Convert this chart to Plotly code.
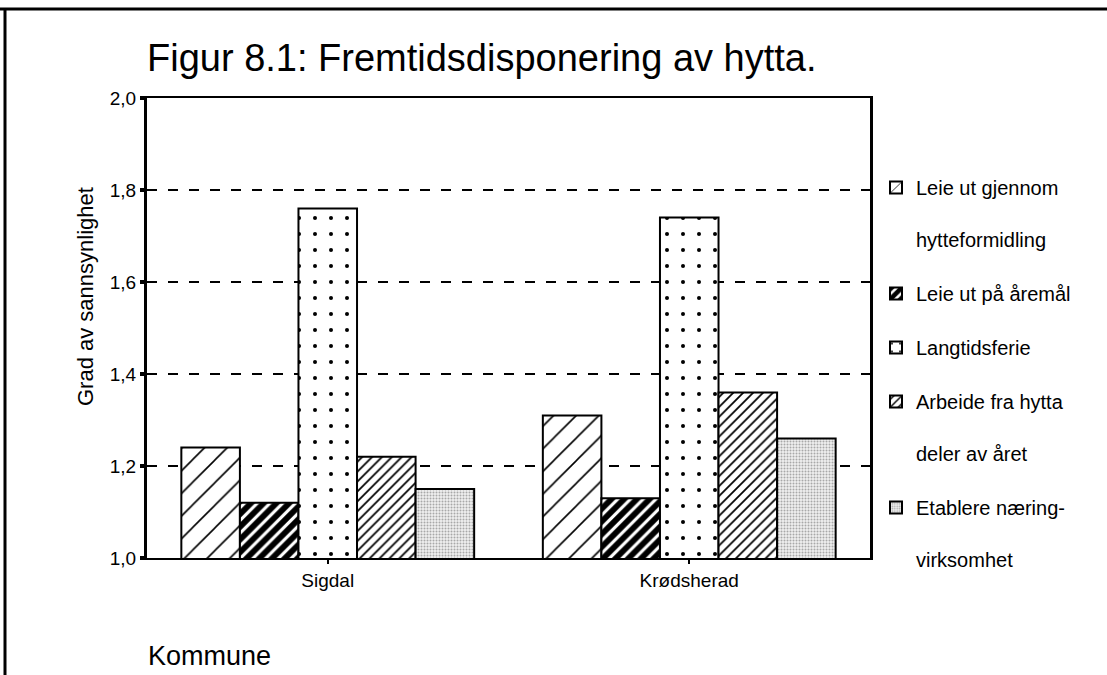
import plotly.graph_objects as go

# ---- data ----
kommuner = ["Sigdal", "Krødsherad"]
leie_hytteformidling = [1.24, 1.31]
leie_aremal = [1.12, 1.13]
langtidsferie = [1.76, 1.74]
arbeide_fra_hytta = [1.22, 1.36]
etablere_naering = [1.15, 1.26]

series_names = [
    "Leie ut gjennom<br><br>hytteformidling",
    "Leie ut på åremål",
    "Langtidsferie",
    "Arbeide fra hytta<br><br>deler av året",
    "Etablere næring-<br><br>virksomhet",
]
series_values = [leie_hytteformidling, leie_aremal, langtidsferie,
                 arbeide_fra_hytta, etablere_naering]

patterns = [
    dict(shape="/", size=16, solidity=0.1, fgcolor="black", bgcolor="white"),
    dict(shape="/", size=9, solidity=0.65, fgcolor="black", bgcolor="white"),
    dict(shape=".", size=16, solidity=0.05, fgcolor="black", bgcolor="white"),
    dict(shape="/", size=7, solidity=0.25, fgcolor="black", bgcolor="white"),
    dict(shape=".", size=3, solidity=0.35, fgcolor="#a8a8a8", bgcolor="#f0f0f0"),
]

FONT = "Liberation Sans, Arial, sans-serif"

fig = go.Figure()
for i, (name, vals, pat) in enumerate(zip(series_names, series_values, patterns)):
    pat = dict(pat, fgopacity=1, fillmode="replace")
    fig.add_trace(go.Bar(
        x=kommuner, y=vals, name=name, legendgroup=f"g{i}",
        marker=dict(color="white", pattern=pat,
                    line=dict(color="black", width=2)),
    ))

# plot area geometry (pixels)
W, H = 1107, 675
L, R, T, B = 147, 237, 98, 117
pw, ph = W - L - R, H - T - B


def px(xp):
    return (xp - L) / pw


def py(yp):
    return (H - B - yp) / ph


fig.update_layout(
    width=W, height=H,
    margin=dict(l=L, r=R, t=T, b=B, pad=0),
    paper_bgcolor="white", plot_bgcolor="white",
    separators=",.",
    barmode="group", bargap=0.19, bargroupgap=0,
    font=dict(family=FONT, color="black"),
    title=dict(text="Figur 8.1: Fremtidsdisponering av hytta.",
               x=L / W, xanchor="left", xref="container",
               y=1 - 58 / H, yanchor="middle", yref="container",
               font=dict(size=38, family=FONT, color="black")),
    legend=dict(x=px(876), xanchor="left", y=py(168), yanchor="top",
                font=dict(size=20, family=FONT, color="black"),
                traceorder="grouped", tracegroupgap=25, valign="top",
                bgcolor="rgba(0,0,0,0)"),
    xaxis=dict(showline=True, linecolor="black", linewidth=2, mirror=True,
               ticks="outside", ticklen=4, tickwidth=2, tickcolor="black",
               tickfont=dict(size=19, family=FONT), showgrid=False),
    yaxis=dict(range=[1, 2], dtick=0.2, tick0=1, tickformat=".1f",
               showline=True, linecolor="black", linewidth=3, mirror=True,
               ticks="outside", ticklen=4, tickwidth=4, tickcolor="black",
               tickfont=dict(size=19, family=FONT),
               showgrid=True, gridcolor="black", gridwidth=2,
               griddash="10px,11px", zeroline=False),
)

fig.add_annotation(text="Grad av sannsynlighet", textangle=-90,
                   xref="paper", yref="paper", x=px(85), y=py(297),
                   xanchor="center", yanchor="middle", showarrow=False,
                   font=dict(size=22, family=FONT, color="black"))
fig.add_annotation(text="Kommune", xref="paper", yref="paper",
                   x=px(146), y=py(656), xanchor="left", yanchor="middle",
                   showarrow=False,
                   font=dict(size=27, family=FONT, color="black"))

# outer frame of the scanned figure
fig.add_shape(type="line", xref="paper", yref="paper",
              x0=px(0), x1=px(W), y0=py(9), y1=py(9),
              line=dict(color="black", width=3))
fig.add_shape(type="line", xref="paper", yref="paper",
              x0=px(5), x1=px(5), y0=py(9), y1=py(H),
              line=dict(color="black", width=3))

fig.write_html("out.html",
               config={"displayModeBar": False},
               post_script="document.body.style.margin='0px';")
